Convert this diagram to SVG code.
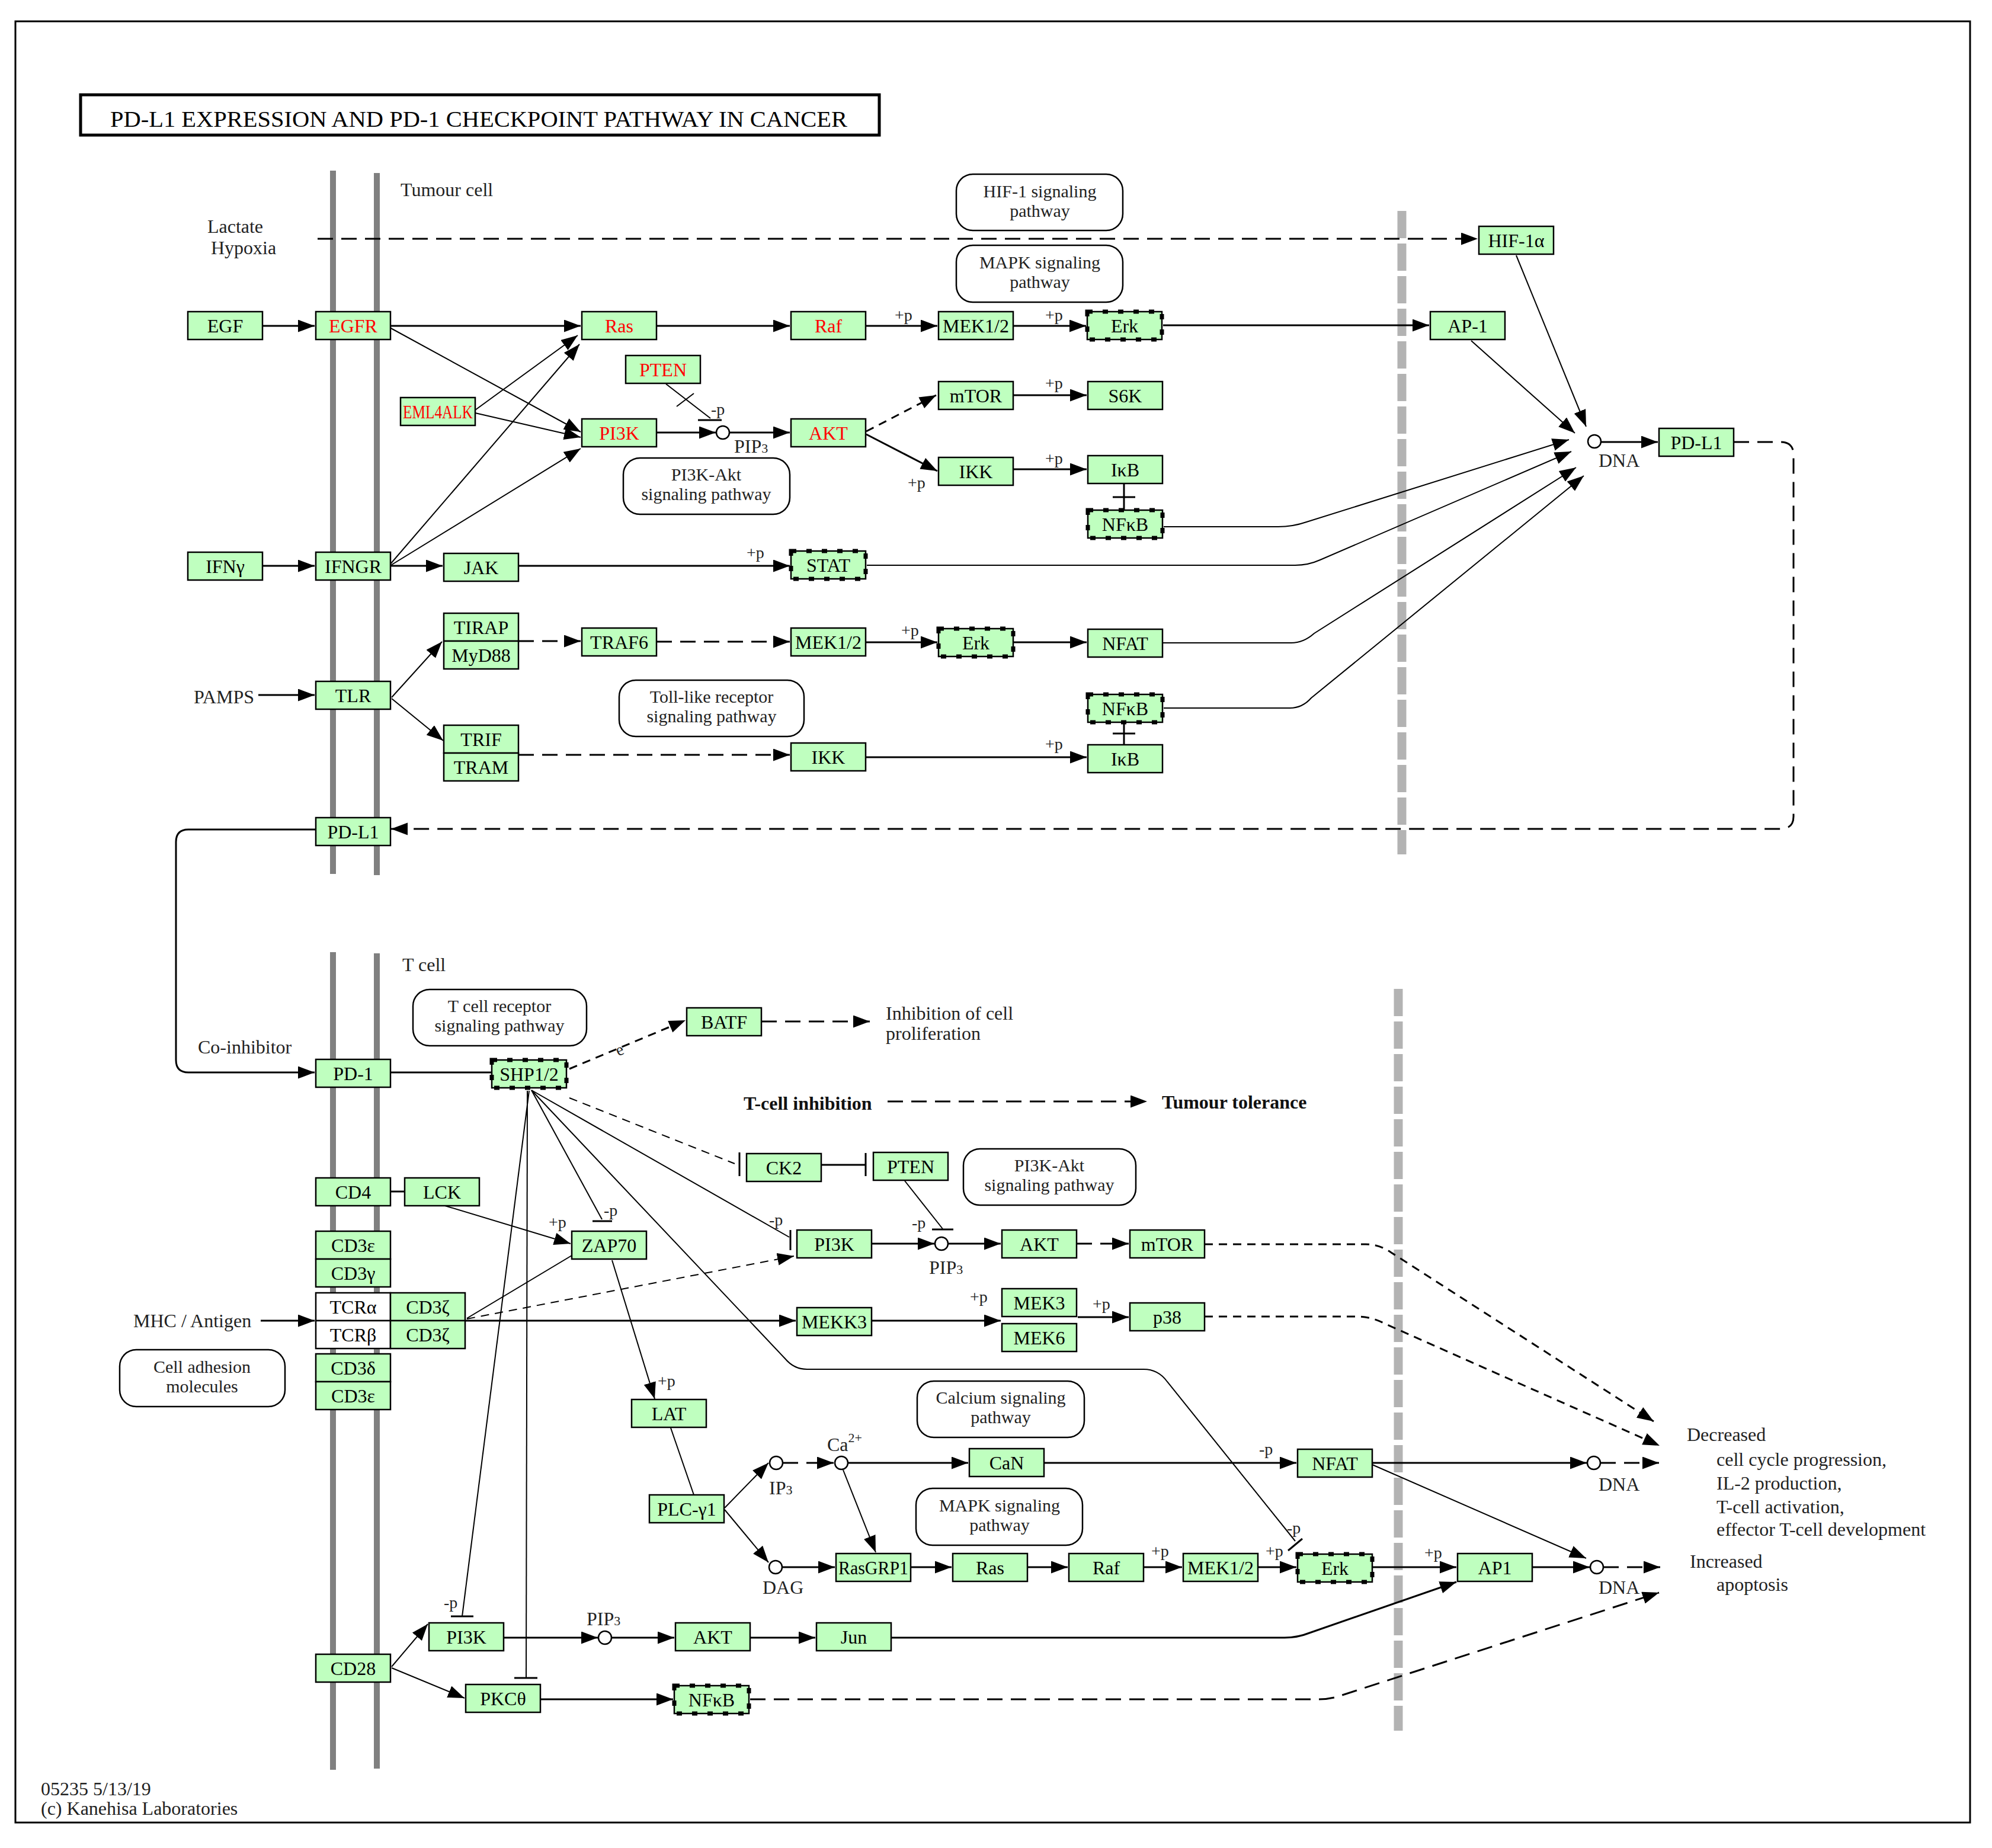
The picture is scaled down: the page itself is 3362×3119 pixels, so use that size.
<svg xmlns="http://www.w3.org/2000/svg" width="3362" height="3119" viewBox="0 0 3362 3119">
<defs>
<style>
text{font-family:"Liberation Serif","Times New Roman",serif;}
.n rect{fill:#bfffbf;stroke:#000;stroke-width:2.5}
.n text{font-size:32px;text-anchor:middle;fill:#000}
.n text.red{fill:#ff0000}
.n rect.wh{fill:#ffffff}
.n rect.dt{fill:none;stroke:#000;stroke-width:7;stroke-dasharray:9 17}
.l{fill:none;stroke:#000;stroke-width:3}
.th{stroke-width:2}
.d{stroke-dasharray:26 14}
.sd{stroke-dasharray:14 10}
.pw rect{fill:#fff;stroke:#000;stroke-width:2.5}
.pw text{font-size:30px;text-anchor:middle;fill:#222}
.lb{font-size:32px;fill:#222}
.bd{font-size:32px;font-weight:bold;fill:#111}
.p{font-size:28px;fill:#222}
.mem{stroke:#808080;stroke-width:10}
.gd{stroke:#b3b3b3;stroke-width:15;stroke-dasharray:46 9}
.c{fill:#fff;stroke:#000;stroke-width:2.5}
</style>
<marker id="a" markerUnits="userSpaceOnUse" markerWidth="30" markerHeight="22" refX="28" refY="10.5" orient="auto"><path d="M0,0 L28,10.5 L0,21 Z" fill="#000"/></marker>
</defs>
<rect x="0" y="0" width="3362" height="3119" fill="#fff"/>
<rect x="26" y="36" width="3299" height="3040" fill="none" stroke="#000" stroke-width="3"/>
<g id="title"><rect x="136" y="160" width="1348" height="68" fill="#fff" stroke="#000" stroke-width="5"/>
<text x="186" y="214" font-size="38" textLength="1244" lengthAdjust="spacingAndGlyphs" fill="#000">PD-L1  EXPRESSION  AND  PD-1  CHECKPOINT  PATHWAY  IN  CANCER</text></g>

<g id="membranes">
<line class="mem" x1="562" y1="288" x2="562" y2="1475"/>
<line class="mem" x1="636" y1="292" x2="636" y2="1477"/>
<line class="mem" x1="562" y1="1607" x2="562" y2="2987"/>
<line class="mem" x1="636" y1="1609" x2="636" y2="2985"/>
<line class="gd" x1="2366" y1="356" x2="2366" y2="1442"/>
<line class="gd" x1="2360" y1="1669" x2="2360" y2="2921"/>
</g>

<g id="connectors">
<path class="l d" d="M536,403 L2494,403" marker-end="url(#a)"/>
<path class="l" d="M443,550 L531,550" marker-end="url(#a)"/>
<path class="l" d="M658,550 L980,550" marker-end="url(#a)"/>
<path class="l th" d="M658,553 L980,729" marker-end="url(#a)"/>
<path class="l th" d="M802,692 L975,566" marker-end="url(#a)"/>
<path class="l th" d="M802,697 L980,738" marker-end="url(#a)"/>
<path class="l th" d="M658,953 L978,581" marker-end="url(#a)"/>
<path class="l th" d="M658,955 L980,757" marker-end="url(#a)"/>
<path class="l" d="M1108,550 L1333,550" marker-end="url(#a)"/>
<path class="l" d="M1461,550 L1582,550" marker-end="url(#a)"/>
<path class="l" d="M1710,550 L1833,550" marker-end="url(#a)"/>
<path class="l" d="M1963,549 L2412,549" marker-end="url(#a)"/>
<path class="l th" d="M1124,648 L1199,706"/>
<path class="l th" d="M1142,686 L1171,664"/>
<path class="l" d="M1178,709 L1218,709"/>
<path class="l" d="M1108,730 L1208,730" marker-end="url(#a)"/>
<path class="l" d="M1231,730 L1333,730" marker-end="url(#a)"/>
<path class="l sd" d="M1462,728 L1580,667" marker-end="url(#a)"/>
<path class="l" d="M1462,733 L1582,795" marker-end="url(#a)"/>
<path class="l" d="M1710,667 L1834,667" marker-end="url(#a)"/>
<path class="l" d="M1710,792 L1834,792" marker-end="url(#a)"/>
<path class="l" d="M1897,816 L1897,861"/>
<path class="l" d="M1878,839 L1916,839"/>
<path class="l th" d="M1964,889 L2157,889 Q2182,889 2205,881 L2648,742" marker-end="url(#a)"/>
<path class="l th" d="M1463,954 L2186,954 Q2208,954 2228,945 L2652,762" marker-end="url(#a)"/>
<path class="l th" d="M1962,1085 L2179,1085 Q2200,1085 2218,1069 L2660,789" marker-end="url(#a)"/>
<path class="l th" d="M1964,1195 L2177,1195 Q2198,1195 2213,1178 L2673,803" marker-end="url(#a)"/>
<path class="l th" d="M2483,575 L2658,731" marker-end="url(#a)"/>
<path class="l th" d="M2559,431 L2677,720" marker-end="url(#a)"/>
<path class="l" d="M2702,746 L2798,746" marker-end="url(#a)"/>
<path class="l d" d="M2926,746 L3005,746 Q3027,746 3027,768 L3027,1378 Q3027,1399 3005,1399 L660,1399" marker-end="url(#a)"/>
<path class="l" d="M443,955 L531,955" marker-end="url(#a)"/>
<path class="l" d="M658,955 L747,955" marker-end="url(#a)"/>
<path class="l" d="M875,955 L1333,955" marker-end="url(#a)"/>
<path class="l" d="M436,1173 L531,1173" marker-end="url(#a)"/>
<path class="l th" d="M661,1177 L746,1083" marker-end="url(#a)"/>
<path class="l th" d="M661,1179 L748,1250" marker-end="url(#a)"/>
<path class="l d" d="M875,1082 L980,1082" marker-end="url(#a)"/>
<path class="l d" d="M1108,1083 L1333,1083" marker-end="url(#a)"/>
<path class="l" d="M1461,1084 L1582,1084" marker-end="url(#a)"/>
<path class="l" d="M1711,1084 L1834,1084" marker-end="url(#a)"/>
<path class="l d" d="M875,1274 L1333,1274" marker-end="url(#a)"/>
<path class="l" d="M1461,1278 L1834,1278" marker-end="url(#a)"/>
<path class="l" d="M1897,1219 L1897,1257"/>
<path class="l" d="M1878,1238 L1916,1238"/>
<path class="l" d="M533,1400 L318,1400 Q297,1400 297,1421 L297,1789 Q297,1810 318,1810 L531,1810" marker-end="url(#a)"/>

<path class="l" d="M658,1810 L830,1810"/>
<path class="l sd" d="M961,1804 L1157,1722" marker-end="url(#a)"/>
<path class="l d" d="M1285,1724 L1468,1724" marker-end="url(#a)"/>
<path class="l d" d="M1498,1859 L1936,1859" marker-end="url(#a)"/>
<path class="l th sd" d="M961,1853 L1240,1964"/>
<path class="l" d="M1248,1945 L1248,1985"/>
<path class="l" d="M1387,1966 L1460,1966"/>
<path class="l" d="M1461,1946 L1461,1985"/>
<path class="l th" d="M897,1840 L1332,2088"/>
<path class="l" d="M1334,2076 L1334,2110"/>
<path class="l th" d="M897,1840 L1325,2293 Q1340,2311 1362,2311 L1930,2311 Q1955,2311 1970,2332 L2186,2601"/>
<path class="l" d="M2174,2617 L2198,2597"/>
<path class="l th" d="M897,1840 L1016,2058"/>
<path class="l" d="M1000,2061 L1033,2061"/>
<path class="l th" d="M890,1841 L888,2832"/>
<path class="l" d="M868,2832 L907,2832"/>
<path class="l th" d="M893,1841 L780,2728"/>
<path class="l" d="M761,2728 L799,2728"/>
<path class="l" d="M658,2011 L683,2011"/>
<path class="l th" d="M751,2035 L963,2099" marker-end="url(#a)"/>
<path class="l th" d="M965,2119 L788,2225"/>
<path class="l th sd" d="M788,2226 L1340,2120" marker-end="url(#a)"/>
<path class="l th" d="M1033,2127 L1105,2361" marker-end="url(#a)"/>
<path class="l" d="M440,2229 L531,2229" marker-end="url(#a)"/>
<path class="l" d="M786,2229 L1343,2229" marker-end="url(#a)"/>
<path class="l" d="M1472,2229 L1689,2229" marker-end="url(#a)"/>
<path class="l" d="M1819,2223 L1905,2223" marker-end="url(#a)"/>
<path class="l" d="M1472,2099 L1577,2099" marker-end="url(#a)"/>
<path class="l th" d="M1527,1993 L1591,2074"/>
<path class="l" d="M1573,2075 L1609,2075"/>
<path class="l" d="M1601,2099 L1689,2099" marker-end="url(#a)"/>
<path class="l d" d="M1817,2099 L1905,2099" marker-end="url(#a)"/>
<path class="l sd" d="M2033,2100 L2305,2100 Q2328,2100 2348,2114 L2791,2399" marker-end="url(#a)"/>
<path class="l sd" d="M2033,2222 L2290,2222 Q2315,2222 2337,2234 L2801,2440" marker-end="url(#a)"/>
<path class="l th" d="M1132,2410 L1171,2523"/>
<path class="l th" d="M1223,2545 L1297,2469" marker-end="url(#a)"/>
<path class="l th" d="M1223,2548 L1297,2637" marker-end="url(#a)"/>
<path class="l d" d="M1321,2469 L1407,2469" marker-end="url(#a)"/>
<path class="l" d="M1431,2469 L1634,2469" marker-end="url(#a)"/>
<path class="l th" d="M1423,2481 L1478,2620" marker-end="url(#a)"/>
<path class="l" d="M1762,2469 L2188,2469" marker-end="url(#a)"/>
<path class="l" d="M2316,2469 L2678,2469" marker-end="url(#a)"/>
<path class="l d" d="M2701,2469 L2800,2469" marker-end="url(#a)"/>
<path class="l th" d="M2316,2472 L2677,2630" marker-end="url(#a)"/>
<path class="l" d="M1320,2645 L1409,2645" marker-end="url(#a)"/>
<path class="l" d="M1538,2645 L1606,2645" marker-end="url(#a)"/>
<path class="l" d="M1734,2645 L1802,2645" marker-end="url(#a)"/>
<path class="l" d="M1929,2645 L1995,2645" marker-end="url(#a)"/>
<path class="l" d="M2123,2645 L2188,2645" marker-end="url(#a)"/>
<path class="l" d="M2317,2645 L2458,2645" marker-end="url(#a)"/>
<path class="l" d="M2586,2645 L2683,2645" marker-end="url(#a)"/>
<path class="l d" d="M2706,2645 L2802,2645" marker-end="url(#a)"/>
<path class="l th" d="M661,2813 L722,2741" marker-end="url(#a)"/>
<path class="l th" d="M661,2815 L784,2866" marker-end="url(#a)"/>
<path class="l" d="M851,2764 L1009,2764" marker-end="url(#a)"/>
<path class="l" d="M1032,2764 L1138,2764" marker-end="url(#a)"/>
<path class="l" d="M1267,2764 L1376,2764" marker-end="url(#a)"/>
<path class="l" d="M1505,2764 L2168,2764 Q2190,2764 2210,2756 L2458,2670" marker-end="url(#a)"/>
<path class="l" d="M913,2868 L1136,2868" marker-end="url(#a)"/>
<path class="l d" d="M1266,2868 L2225,2868 Q2245,2868 2262,2862 L2800,2688" marker-end="url(#a)"/>
</g>

<g id="compounds">
<circle class="c" cx="1220" cy="730" r="11"/>
<circle class="c" cx="2691" cy="745" r="11"/>
<circle class="c" cx="1589" cy="2099" r="11"/>
<circle class="c" cx="1310" cy="2469" r="11"/>
<circle class="c" cx="1420" cy="2469" r="11"/>
<circle class="c" cx="1309" cy="2645" r="11"/>
<circle class="c" cx="2690" cy="2469" r="11"/>
<circle class="c" cx="2695" cy="2645" r="11"/>
<circle class="c" cx="1021" cy="2764" r="11"/>
</g>

<g id="pathways" class="pw">
<g id="pw-hif"><rect x="1614" y="294" width="281" height="95" rx="28"/><text x="1755" y="333">HIF-1 signaling</text><text x="1755" y="366">pathway</text></g>
<g id="pw-mapk1"><rect x="1614" y="414" width="281" height="96" rx="28"/><text x="1755" y="453">MAPK signaling</text><text x="1755" y="486">pathway</text></g>
<g id="pw-pi3k1"><rect x="1052" y="773" width="281" height="95" rx="28"/><text x="1192" y="811">PI3K-Akt</text><text x="1192" y="844">signaling pathway</text></g>
<g id="pw-tlr"><rect x="1045" y="1148" width="312" height="95" rx="28"/><text x="1201" y="1186">Toll-like receptor</text><text x="1201" y="1219">signaling pathway</text></g>
<g id="pw-tcr"><rect x="697" y="1670" width="293" height="95" rx="28"/><text x="843" y="1708">T cell receptor</text><text x="843" y="1741">signaling pathway</text></g>
<g id="pw-pi3k2"><rect x="1626" y="1939" width="291" height="95" rx="28"/><text x="1771" y="1977">PI3K-Akt</text><text x="1771" y="2010">signaling pathway</text></g>
<g id="pw-cam"><rect x="202" y="2278" width="279" height="96" rx="28"/><text x="341" y="2317">Cell adhesion</text><text x="341" y="2350">molecules</text></g>
<g id="pw-ca"><rect x="1548" y="2331" width="282" height="95" rx="28"/><text x="1689" y="2369">Calcium signaling</text><text x="1689" y="2402">pathway</text></g>
<g id="pw-mapk2"><rect x="1546" y="2512" width="281" height="96" rx="28"/><text x="1687" y="2551">MAPK signaling</text><text x="1687" y="2584">pathway</text></g>
</g>

<g id="nodes">
<g id="egf" class="n"><rect x="317" y="526" width="126" height="47"/><text x="380" y="561">EGF</text></g>
<g id="egfr" class="n"><rect x="533" y="526" width="126" height="47"/><text class="red" x="596" y="561">EGFR</text></g>
<g id="ras1" class="n"><rect x="982" y="526" width="126" height="47"/><text class="red" x="1045" y="561">Ras</text></g>
<g id="raf1" class="n"><rect x="1335" y="526" width="126" height="47"/><text class="red" x="1398" y="561">Raf</text></g>
<g id="mek1" class="n"><rect x="1584" y="526" width="126" height="47"/><text x="1647" y="561">MEK1/2</text></g>
<g id="erk1" class="n"><rect x="1835" y="526" width="126" height="47"/><rect class="dt" x="1835" y="526" width="126" height="47"/><text x="1898" y="561">Erk</text></g>
<g id="ap1a" class="n"><rect x="2414" y="526" width="126" height="47"/><text x="2477" y="561">AP-1</text></g>
<g id="hif1a" class="n"><rect x="2496" y="382" width="126" height="47"/><text x="2559" y="417">HIF-1α</text></g>
<g id="pten1" class="n"><rect x="1056" y="600" width="126" height="47"/><text class="red" x="1119" y="635">PTEN</text></g>
<g id="eml4alk" class="n"><rect x="676" y="671" width="126" height="47"/><text class="red" x="739" y="706" textLength="118" lengthAdjust="spacingAndGlyphs">EML4ALK</text></g>
<g id="pi3k1" class="n"><rect x="982" y="707" width="126" height="47"/><text class="red" x="1045" y="742">PI3K</text></g>
<g id="akt1" class="n"><rect x="1335" y="707" width="126" height="47"/><text class="red" x="1398" y="742">AKT</text></g>
<g id="mtor1" class="n"><rect x="1584" y="644" width="126" height="47"/><text x="1647" y="679">mTOR</text></g>
<g id="s6k" class="n"><rect x="1836" y="644" width="126" height="47"/><text x="1899" y="679">S6K</text></g>
<g id="ikk1" class="n"><rect x="1584" y="772" width="126" height="47"/><text x="1647" y="807">IKK</text></g>
<g id="ikb1" class="n"><rect x="1836" y="769" width="126" height="47"/><text x="1899" y="804">IκB</text></g>
<g id="nfkb1" class="n"><rect x="1836" y="861" width="126" height="47"/><rect class="dt" x="1836" y="861" width="126" height="47"/><text x="1899" y="896">NFκB</text></g>
<g id="ifng" class="n"><rect x="317" y="932" width="126" height="47"/><text x="380" y="967">IFNγ</text></g>
<g id="ifngr" class="n"><rect x="533" y="932" width="126" height="47"/><text x="596" y="967">IFNGR</text></g>
<g id="jak" class="n"><rect x="749" y="934" width="126" height="47"/><text x="812" y="969">JAK</text></g>
<g id="stat" class="n"><rect x="1335" y="930" width="126" height="47"/><rect class="dt" x="1335" y="930" width="126" height="47"/><text x="1398" y="965">STAT</text></g>
<g id="tirap" class="n"><rect x="749" y="1035" width="126" height="47"/><text x="812" y="1070">TIRAP</text><rect x="749" y="1082" width="126" height="47"/><text x="812" y="1117">MyD88</text></g>
<g id="traf6" class="n"><rect x="982" y="1060" width="126" height="47"/><text x="1045" y="1095">TRAF6</text></g>
<g id="mek2" class="n"><rect x="1335" y="1060" width="126" height="47"/><text x="1398" y="1095">MEK1/2</text></g>
<g id="erk2" class="n"><rect x="1584" y="1061" width="126" height="47"/><rect class="dt" x="1584" y="1061" width="126" height="47"/><text x="1647" y="1096">Erk</text></g>
<g id="nfat1" class="n"><rect x="1836" y="1062" width="126" height="47"/><text x="1899" y="1097">NFAT</text></g>
<g id="tlr" class="n"><rect x="533" y="1150" width="126" height="47"/><text x="596" y="1185">TLR</text></g>
<g id="nfkb2" class="n"><rect x="1836" y="1172" width="126" height="47"/><rect class="dt" x="1836" y="1172" width="126" height="47"/><text x="1899" y="1207">NFκB</text></g>
<g id="trif" class="n"><rect x="749" y="1224" width="126" height="47"/><text x="812" y="1259">TRIF</text><rect x="749" y="1271" width="126" height="47"/><text x="812" y="1306">TRAM</text></g>
<g id="ikk2" class="n"><rect x="1335" y="1254" width="126" height="47"/><text x="1398" y="1289">IKK</text></g>
<g id="ikb2" class="n"><rect x="1836" y="1257" width="126" height="47"/><text x="1899" y="1292">IκB</text></g>
<g id="pdl1a" class="n"><rect x="533" y="1380" width="126" height="47"/><text x="596" y="1415">PD-L1</text></g>
<g id="pdl1b" class="n"><rect x="2800" y="723" width="126" height="47"/><text x="2863" y="758">PD-L1</text></g>

<g id="pd1" class="n"><rect x="533" y="1788" width="126" height="47"/><text x="596" y="1823">PD-1</text></g>
<g id="shp" class="n"><rect x="830" y="1789" width="126" height="47"/><rect class="dt" x="830" y="1789" width="126" height="47"/><text x="893" y="1824">SHP1/2</text></g>
<g id="batf" class="n"><rect x="1159" y="1701" width="126" height="47"/><text x="1222" y="1736">BATF</text></g>
<g id="ck2" class="n"><rect x="1260" y="1947" width="126" height="47"/><text x="1323" y="1982">CK2</text></g>
<g id="pten2" class="n"><rect x="1474" y="1945" width="126" height="47"/><text x="1537" y="1980">PTEN</text></g>
<g id="cd4" class="n"><rect x="533" y="1988" width="126" height="47"/><text x="596" y="2023">CD4</text></g>
<g id="lck" class="n"><rect x="683" y="1988" width="126" height="47"/><text x="746" y="2023">LCK</text></g>
<g id="zap70" class="n"><rect x="965" y="2078" width="126" height="47"/><text x="1028" y="2113">ZAP70</text></g>
<g id="pi3k2" class="n"><rect x="1345" y="2076" width="126" height="47"/><text x="1408" y="2111">PI3K</text></g>
<g id="akt2" class="n"><rect x="1691" y="2076" width="126" height="47"/><text x="1754" y="2111">AKT</text></g>
<g id="mtor2" class="n"><rect x="1907" y="2076" width="126" height="47"/><text x="1970" y="2111">mTOR</text></g>
<g id="cd3eg" class="n"><rect x="533" y="2078" width="126" height="47"/><text x="596" y="2113">CD3ε</text><rect x="533" y="2125" width="126" height="47"/><text x="596" y="2160">CD3γ</text></g>
<g id="tcr" class="n"><rect class="wh" x="533" y="2182" width="126" height="47"/><text x="596" y="2217">TCRα</text><rect class="wh" x="533" y="2229" width="126" height="47"/><text x="596" y="2264">TCRβ</text></g>
<g id="cd3z" class="n"><rect x="659" y="2182" width="126" height="47"/><text x="722" y="2217">CD3ζ</text><rect x="659" y="2229" width="126" height="47"/><text x="722" y="2264">CD3ζ</text></g>
<g id="mekk3" class="n"><rect x="1345" y="2207" width="126" height="47"/><text x="1408" y="2242">MEKK3</text></g>
<g id="mek36" class="n"><rect x="1691" y="2175" width="126" height="47"/><text x="1754" y="2210">MEK3</text><rect x="1691" y="2234" width="126" height="47"/><text x="1754" y="2269">MEK6</text></g>
<g id="p38" class="n"><rect x="1907" y="2199" width="126" height="47"/><text x="1970" y="2234">p38</text></g>
<g id="cd3de" class="n"><rect x="533" y="2285" width="126" height="47"/><text x="596" y="2320">CD3δ</text><rect x="533" y="2332" width="126" height="47"/><text x="596" y="2367">CD3ε</text></g>
<g id="lat" class="n"><rect x="1066" y="2362" width="126" height="47"/><text x="1129" y="2397">LAT</text></g>
<g id="can" class="n"><rect x="1636" y="2445" width="126" height="47"/><text x="1699" y="2480">CaN</text></g>
<g id="nfat2" class="n"><rect x="2190" y="2446" width="126" height="47"/><text x="2253" y="2481">NFAT</text></g>
<g id="plcg1" class="n"><rect x="1096" y="2523" width="126" height="47"/><text x="1159" y="2558">PLC-γ1</text></g>
<g id="rasgrp1" class="n"><rect x="1411" y="2622" width="126" height="47"/><text x="1474" y="2657" textLength="118" lengthAdjust="spacingAndGlyphs">RasGRP1</text></g>
<g id="ras2" class="n"><rect x="1608" y="2622" width="126" height="47"/><text x="1671" y="2657">Ras</text></g>
<g id="raf2" class="n"><rect x="1804" y="2622" width="126" height="47"/><text x="1867" y="2657">Raf</text></g>
<g id="mek3b" class="n"><rect x="1997" y="2622" width="126" height="47"/><text x="2060" y="2657">MEK1/2</text></g>
<g id="erk3" class="n"><rect x="2190" y="2623" width="126" height="47"/><rect class="dt" x="2190" y="2623" width="126" height="47"/><text x="2253" y="2658">Erk</text></g>
<g id="ap1b" class="n"><rect x="2460" y="2622" width="126" height="47"/><text x="2523" y="2657">AP1</text></g>
<g id="pi3k3" class="n"><rect x="724" y="2739" width="126" height="47"/><text x="787" y="2774">PI3K</text></g>
<g id="akt3" class="n"><rect x="1140" y="2739" width="126" height="47"/><text x="1203" y="2774">AKT</text></g>
<g id="jun" class="n"><rect x="1378" y="2739" width="126" height="47"/><text x="1441" y="2774">Jun</text></g>
<g id="cd28" class="n"><rect x="533" y="2792" width="126" height="47"/><text x="596" y="2827">CD28</text></g>
<g id="pkct" class="n"><rect x="786" y="2843" width="126" height="47"/><text x="849" y="2878">PKCθ</text></g>
<g id="nfkb3" class="n"><rect x="1138" y="2845" width="126" height="47"/><rect class="dt" x="1138" y="2845" width="126" height="47"/><text x="1201" y="2880">NFκB</text></g>
</g>

<g id="labels">
<text class="lb" x="676" y="331">Tumour cell</text>
<text class="lb" x="397" y="393" text-anchor="middle">Lactate</text>
<text class="lb" x="411" y="429" text-anchor="middle">Hypoxia</text>
<text class="lb" x="327" y="1187">PAMPS</text>
<text class="lb" x="334" y="1778">Co-inhibitor</text>
<text class="lb" x="679" y="1639">T cell</text>
<text class="lb" x="225" y="2240">MHC / Antigen</text>
<text class="lb" x="1495" y="1721" font-size="31">Inhibition of cell</text>
<text class="lb" x="1495" y="1755" font-size="31">proliferation</text>
<text class="bd" x="1255" y="1873">T-cell inhibition</text>
<text class="bd" x="1961" y="1871">Tumour tolerance</text>
<text class="lb" x="2698" y="788">DNA</text>
<text class="lb" x="2698" y="2516">DNA</text>
<text class="lb" x="2698" y="2690">DNA</text>
<text class="lb" x="1239" y="764">PIP<tspan font-size="22">3</tspan></text>
<text class="lb" x="1568" y="2150">PIP<tspan font-size="22">3</tspan></text>
<text class="lb" x="990" y="2743">PIP<tspan font-size="22">3</tspan></text>
<text class="lb" x="1298" y="2522">IP<tspan font-size="22">3</tspan></text>
<text class="lb" x="1287" y="2690">DAG</text>
<text class="lb" x="1396" y="2449">Ca<tspan font-size="22" dy="-15">2+</tspan></text>
<text class="lb" x="2847" y="2432">Decreased</text>
<text class="lb" x="2897" y="2474">cell cycle progression,</text>
<text class="lb" x="2897" y="2514">IL-2 production,</text>
<text class="lb" x="2897" y="2554">T-cell activation,</text>
<text class="lb" x="2897" y="2592">effector T-cell development</text>
<text class="lb" x="2852" y="2646">Increased</text>
<text class="lb" x="2897" y="2685">apoptosis</text>
<text class="lb" x="69" y="3030">05235 5/13/19</text>
<text class="lb" x="69" y="3063">(c) Kanehisa Laboratories</text>
<text class="p" x="1040" y="1781" transform="rotate(-23 1046 1773)">e</text>
<text class="p" x="1510" y="541">+p</text>
<text class="p" x="1764" y="541">+p</text>
<text class="p" x="1764" y="656">+p</text>
<text class="p" x="1532" y="824">+p</text>
<text class="p" x="1764" y="783">+p</text>
<text class="p" x="1260" y="942">+p</text>
<text class="p" x="1521" y="1073">+p</text>
<text class="p" x="1764" y="1265">+p</text>
<text class="p" x="1200" y="700">-p</text>
<text class="p" x="926" y="2072">+p</text>
<text class="p" x="1019" y="2052">-p</text>
<text class="p" x="1298" y="2068">-p</text>
<text class="p" x="1539" y="2073">-p</text>
<text class="p" x="1637" y="2198">+p</text>
<text class="p" x="1844" y="2210">+p</text>
<text class="p" x="1110" y="2340">+p</text>
<text class="p" x="2125" y="2455">-p</text>
<text class="p" x="1943" y="2627">+p</text>
<text class="p" x="2136" y="2627">+p</text>
<text class="p" x="2172" y="2588">-p</text>
<text class="p" x="2404" y="2630">+p</text>
<text class="p" x="749" y="2714">-p</text>
</g>
</svg>
